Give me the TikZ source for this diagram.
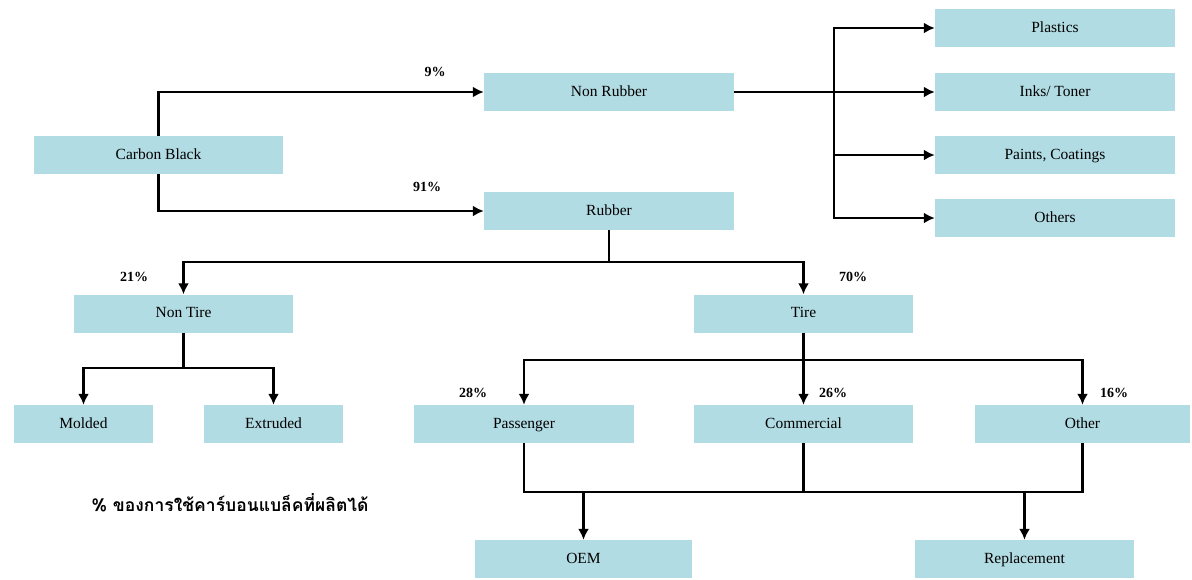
\documentclass[tikz,border=0pt]{standalone}
\usepackage{fontspec}
\setmainfont{Liberation Serif}
\newfontfamily\thaifont[Script=Thai]{Loma}
\usepackage{xcolor}
\usepackage{tikz}
\usetikzlibrary{arrows.meta}

\definecolor{boxblue}{RGB}{178,220,227}

\begin{document}
\begin{tikzpicture}[
    x=1pt, y=-1pt,
    box/.style={rectangle, fill=boxblue, minimum width=219pt, minimum height=38pt, inner sep=0pt, text height=11pt, text depth=3pt, font=\fontsize{15.5}{17}\selectfont},
    pct/.style={font=\fontsize{14}{16}\selectfont\bfseries, inner sep=0pt},
    arrow/.style={-{Latex[length=11pt,width=11pt]}, line width=2.8pt},
    line/.style={line width=2.8pt}
]
    \useasboundingbox (0,0) rectangle (1192,579);

    \node[box, minimum width=249pt] (carbon) at (158.5,155) {Carbon Black};
    \node[box, minimum width=250pt] (nonrubber) at (609,92) {Non Rubber};
    \node[box, minimum width=250pt] (rubber) at (609,211) {Rubber};

    \node[box, minimum width=240pt] (plastics) at (1055,28) {Plastics};
    \node[box, minimum width=240pt] (inks) at (1055,92) {Inks/ Toner};
    \node[box, minimum width=240pt] (paints) at (1055,155) {Paints, Coatings};
    \node[box, minimum width=240pt] (others) at (1055,218) {Others};

    \node[box] (nontire) at (183.5,313.5) {Non Tire};
    \node[box] (tire) at (803.5,313.5) {Tire};
    \node[box, minimum width=139pt] (molded) at (83.5,424) {Molded};
    \node[box, minimum width=139pt] (extruded) at (273.5,424) {Extruded};
    \node[box, minimum width=220pt] (passenger) at (524,424) {Passenger};
    \node[box] (commercial) at (803.5,424) {Commercial};
    \node[box, minimum width=215pt] (other) at (1082.5,424) {Other};
    \node[box, minimum width=217pt] (oem) at (583.5,559) {OEM};
    \node[box] (replacement) at (1024.5,559) {Replacement};

    \node[pct] (p9) at (435,72) {9\%};
    \node[pct] (p91) at (427,187) {91\%};
    \node[pct] (p21) at (134,277) {21\%};
    \node[pct] (p70) at (853,277) {70\%};
    \node[pct] (p28) at (473,393) {28\%};
    \node[pct] (p26) at (833,393) {26\%};
    \node[pct] (p16) at (1114,393) {16\%};

    \node[font=\thaifont\fontsize{17.5}{20}\selectfont\bfseries] (note) at (230,503) {\% ของการใช้คาร์บอนแบล็คที่ผลิตได้};

    % junction points
    \coordinate (nrsplit) at (834,92);
    \coordinate (rsplit) at (609,262);
    \coordinate (ntsplit) at (183.5,368);
    \coordinate (tsplit) at (803.5,360);
    \coordinate (bus) at (803.5,492);

    \draw[arrow] (carbon.north) |- (nonrubber.west);
    \draw[arrow] (carbon.south) |- (rubber.west);

    \draw[line] (nonrubber.east) -- (nrsplit);
    \draw[arrow] (nrsplit) |- (plastics.west);
    \draw[arrow] (nrsplit) -- (inks.west);
    \draw[arrow] (nrsplit) |- (paints.west);
    \draw[arrow] (nrsplit) |- (others.west);

    \draw[line] (rubber.south) -- (rsplit);
    \draw[arrow] (rsplit) -| (nontire.north);
    \draw[arrow] (rsplit) -| (tire.north);

    \draw[line] (nontire.south) -- (ntsplit);
    \draw[arrow] (ntsplit) -| (molded.north);
    \draw[arrow] (ntsplit) -| (extruded.north);

    \draw[arrow] (tire.south) -- (commercial.north);
    \draw[arrow] (tsplit) -| (passenger.north);
    \draw[arrow] (tsplit) -| (other.north);

    \draw[line] (passenger.south) |- (other.south |- bus) -- (other.south);
    \draw[line] (commercial.south) -- (bus);
    \draw[arrow] (oem.north |- bus) -- (oem.north);
    \draw[arrow] (replacement.north |- bus) -- (replacement.north);
\end{tikzpicture}
\end{document}
